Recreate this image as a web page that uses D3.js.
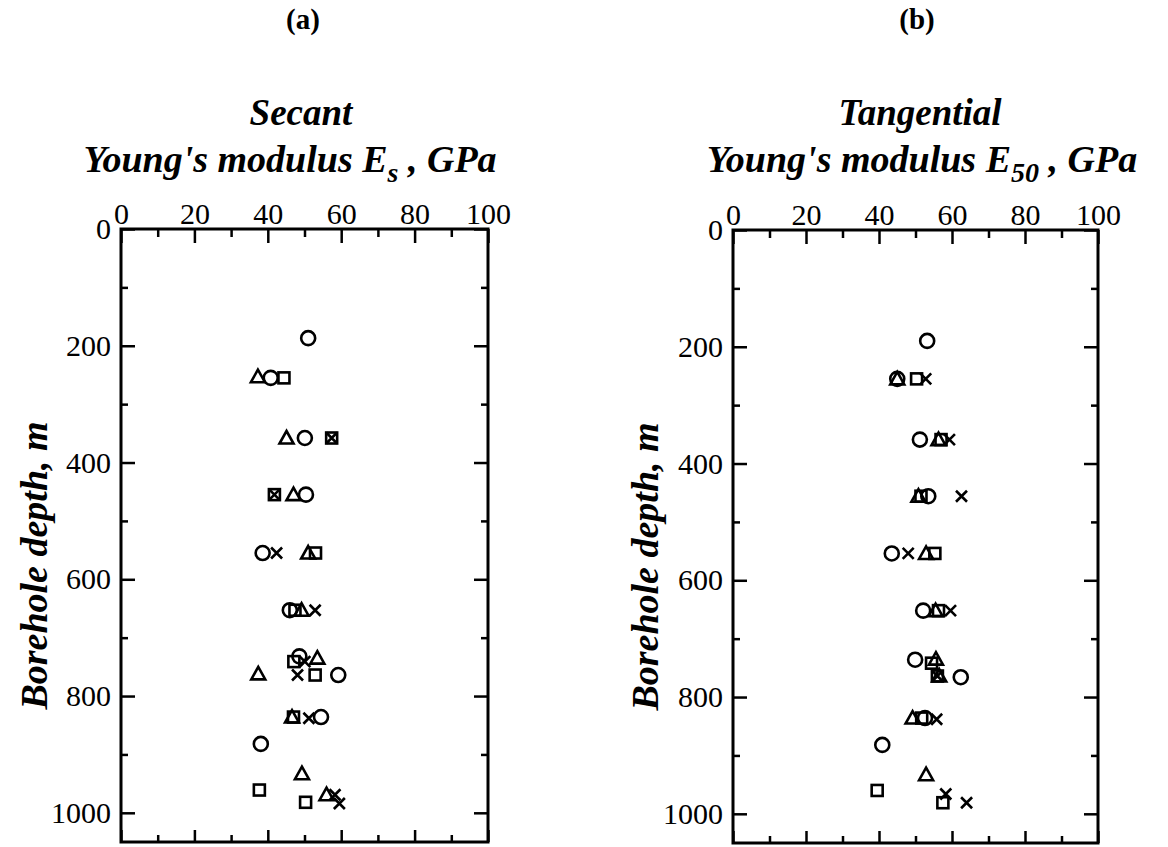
<!DOCTYPE html>
<html>
<head>
<meta charset="utf-8">
<script src="https://cdn.jsdelivr.net/npm/d3@7"></script>
<style>
  body { margin: 0; background: #fff; }
  text { font-family: "Liberation Serif", "Times New Roman", serif; fill: #000; }
</style>
</head>
<body>
<script>
// values: [depth m, modulus GPa]
const circleA = [[187,51],[255,40.8],[358,50.1],[455,50.4],[555,38.6],[653,46],[732,48.6],[764,59.2],[836,54.5],[882,38.1]];
const triangleA = [[253,37.3],[358,45.1],[455,47],[555,51],[653,49.2],[735,53.5],[762,37.4],[836,46.6],[933,49.3],[969,56]];
const squareA = [[255,44.4],[358,57.4],[455,41.8],[555,53],[653,47.4],[741,47.1],[764,52.9],[836,47],[961,37.7],[982,50.3]];
const crossA = [[358,57.4],[455,41.8],[555,42.4],[653,52.9],[741,50.1],[764,48.1],[838,51.2],[969,58.3],[984,59.5]];

const circleB = [[190,53.2],[255,45],[359,51.2],[456,53.5],[554,43.5],[652,52.1],[736,49.9],[766,62.4],[836,52.6],[882,40.9]];
const triangleB = [[255,45],[359,56.3],[456,50.8],[554,52.9],[652,55.5],[735,55.6],[764,56.5],[836,49.2],[933,52.9]];
const squareB = [[255,50.3],[359,57],[456,51.5],[554,55.3],[652,56.3],[742,54.4],[764,56],[836,51.7],[960,39.5],[981,57.5]];
const crossB = [[255,52.8],[359,59.3],[456,62.6],[554,48],[652,59.6],[764,56],[838,55.8],[966,58.3],[981,64]];

const xTicks = [0, 20, 40, 60, 80, 100];
const yTicks = [0, 200, 400, 600, 800, 1000];

const width = 1168, height = 847;

const svg = d3.select("body").append("svg")
  .attr("width", width)
  .attr("height", height);

const panels = [
  { tag: "(a)", title: "Secant", sub: "s", left: 121, right: 488, top: 229, bottom: 842, tagX: 303,
    titleX: 301, line2X: 290, labelX: 34, series: [circleA, triangleA, squareA, crossA] },
  { tag: "(b)", title: "Tangential", sub: "50", left: 733, right: 1098, top: 230, bottom: 843, tagX: 917,
    titleX: 920, line2X: 922, labelX: 645, series: [circleB, triangleB, squareB, crossB] }
];

const symbols = ["circle", "triangle", "square", "cross"];

panels.forEach(p => {
  const x = d3.scaleLinear().domain([0, 100]).range([p.left, p.right]);
  const y = d3.scaleLinear().domain([0, 1050]).range([p.top, p.bottom]);

  // panel tag and titles
  svg.append("text")
    .attr("x", p.tagX).attr("y", 29)
    .attr("text-anchor", "middle")
    .style("font-weight", "bold").style("font-size", "29px")
    .text(p.tag);

  svg.append("text")
    .attr("x", p.titleX).attr("y", 125)
    .attr("text-anchor", "middle")
    .style("font-weight", "bold").style("font-style", "italic").style("font-size", "37px")
    .text(p.title);

  const t2 = svg.append("text")
    .attr("x", p.line2X).attr("y", 172)
    .attr("text-anchor", "middle")
    .style("font-weight", "bold").style("font-style", "italic").style("font-size", "38px");
  t2.append("tspan").text("Young's modulus E");
  t2.append("tspan").attr("dy", 10).style("font-size", "28px").text(p.sub);
  t2.append("tspan").attr("dy", -10).text(" , GPa");

  // y label
  svg.append("text")
    .attr("transform", `translate(${p.labelX},${(p.top + p.bottom) / 2 + 30}) rotate(-90)`)
    .attr("text-anchor", "middle")
    .attr("dy", "0.35em")
    .style("font-weight", "bold").style("font-style", "italic").style("font-size", "38px")
    .text("Borehole depth, m");

  // minor ticks
  const minorX = d3.range(10, 100, 20);
  const minorY = d3.range(100, 1050, 200);
  const g = svg.append("g");

  const axisStyle = sel => {
    sel.select(".domain").remove();
    sel.selectAll(".tick line").attr("stroke", "#000").attr("stroke-width", 2.5);
    sel.selectAll(".tick text")
      .style("font-family", "'Liberation Serif', serif")
      .style("font-size", "30px");
  };

  g.append("g").attr("transform", `translate(0,${p.top})`)
    .call(d3.axisTop(x).tickValues(xTicks).tickSizeInner(-14).tickSizeOuter(0).tickPadding(5).tickFormat(d3.format("d")))
    .call(axisStyle);
  g.append("g").attr("transform", `translate(0,${p.top})`)
    .call(d3.axisTop(x).tickValues(minorX).tickSizeInner(-8).tickSizeOuter(0).tickFormat(""))
    .call(axisStyle);
  g.append("g").attr("transform", `translate(0,${p.bottom})`)
    .call(d3.axisBottom(x).tickValues(xTicks).tickSizeInner(-12).tickSizeOuter(0).tickFormat(""))
    .call(axisStyle);
  g.append("g").attr("transform", `translate(0,${p.bottom})`)
    .call(d3.axisBottom(x).tickValues(minorX).tickSizeInner(-7).tickSizeOuter(0).tickFormat(""))
    .call(axisStyle);
  g.append("g").attr("transform", `translate(${p.left},0)`)
    .call(d3.axisLeft(y).tickValues(yTicks).tickSizeInner(-14).tickSizeOuter(0).tickPadding(10).tickFormat(d3.format("d")))
    .call(axisStyle);
  g.append("g").attr("transform", `translate(${p.left},0)`)
    .call(d3.axisLeft(y).tickValues(minorY).tickSizeInner(-7).tickSizeOuter(0).tickFormat(""))
    .call(axisStyle);
  g.append("g").attr("transform", `translate(${p.right},0)`)
    .call(d3.axisRight(y).tickValues(yTicks).tickSizeInner(-14).tickSizeOuter(0).tickFormat(""))
    .call(axisStyle);
  g.append("g").attr("transform", `translate(${p.right},0)`)
    .call(d3.axisRight(y).tickValues(minorY).tickSizeInner(-7).tickSizeOuter(0).tickFormat(""))
    .call(axisStyle);

  // frame
  svg.append("rect")
    .attr("x", p.left).attr("y", p.top)
    .attr("width", p.right - p.left).attr("height", p.bottom - p.top)
    .attr("fill", "none").attr("stroke", "#000").attr("stroke-width", 3);

  // markers
  p.series.forEach((data, si) => {
    const kind = symbols[si];
    const m = svg.append("g").selectAll("g").data(data).join("g")
      .attr("transform", d => `translate(${x(d[1])},${y(d[0])})`);
    if (kind === "circle") {
      m.append("circle").attr("r", 7)
        .attr("fill", "none").attr("stroke", "#000").attr("stroke-width", 2.6);
    } else if (kind === "triangle") {
      m.append("path").attr("d", "M0,-7L7,5.5L-7,5.5Z")
        .attr("fill", "none").attr("stroke", "#000").attr("stroke-width", 2.6);
    } else if (kind === "square") {
      m.append("rect").attr("x", -5.5).attr("y", -5.5).attr("width", 11).attr("height", 11)
        .attr("fill", "none").attr("stroke", "#000").attr("stroke-width", 2.6);
    } else {
      m.append("path").attr("d", "M-5.5,-5.5L5.5,5.5M-5.5,5.5L5.5,-5.5")
        .attr("fill", "none").attr("stroke", "#000").attr("stroke-width", 2.6);
    }
  });
});
</script>
</body>
</html>
